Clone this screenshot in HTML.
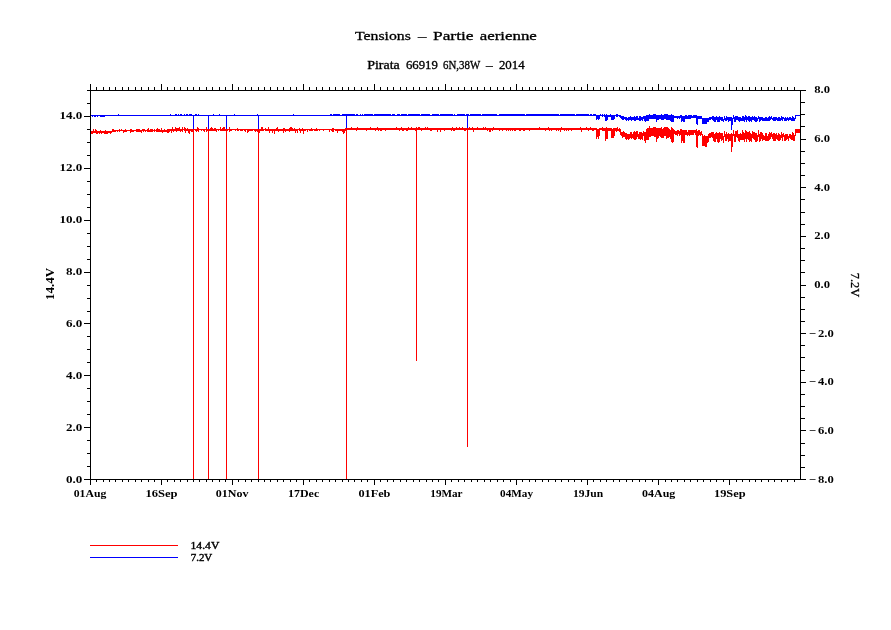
<!DOCTYPE html>
<html lang="fr"><head><meta charset="utf-8"><title>Tensions - Partie aerienne</title>
<style>html,body{margin:0;padding:0;background:#fff}body{width:891px;height:630px;overflow:hidden}svg{display:block}text{font-family:"Liberation Serif",serif;fill:#000}.tk{font-size:10.7px;font-weight:bold}.ax{font-size:12px;font-weight:bold}.lg{font-size:11px;stroke:#000;stroke-width:0.4px}</style></head><body>
<svg width="891" height="630" viewBox="0 0 891 630">
<rect width="891" height="630" fill="#fff"/>
<path fill="#0000ff" shape-rendering="crispEdges" d="M90 115h1v1h-1zM91 115h1v1h-1zM92 115h1v2h-1zM93 115h1v1h-1zM94 115h1v2h-1zM95 115h1v2h-1zM96 115h1v1h-1zM97 115h1v2h-1zM98 115h1v1h-1zM99 115h1v1h-1zM100 115h1v2h-1zM101 115h1v2h-1zM102 115h1v2h-1zM103 115h1v2h-1zM104 115h1v2h-1zM105 115h1v1h-1zM106 115h1v1h-1zM107 115h1v1h-1zM108 115h1v1h-1zM109 115h1v1h-1zM110 115h1v1h-1zM111 115h1v1h-1zM112 115h1v1h-1zM113 115h1v1h-1zM114 115h1v1h-1zM115 115h1v1h-1zM116 115h1v1h-1zM117 115h1v1h-1zM118 114h1v2h-1zM119 115h1v1h-1zM120 115h1v1h-1zM121 115h1v1h-1zM122 115h1v1h-1zM123 115h1v1h-1zM124 115h1v1h-1zM125 115h1v1h-1zM126 115h1v1h-1zM127 115h1v1h-1zM128 115h1v1h-1zM129 115h1v1h-1zM130 115h1v1h-1zM131 115h1v1h-1zM132 115h1v1h-1zM133 115h1v1h-1zM134 115h1v1h-1zM135 115h1v1h-1zM136 115h1v1h-1zM137 115h1v1h-1zM138 115h1v1h-1zM139 115h1v1h-1zM140 115h1v1h-1zM141 115h1v1h-1zM142 115h1v1h-1zM143 115h1v1h-1zM144 115h1v1h-1zM145 115h1v1h-1zM146 115h1v1h-1zM147 115h1v1h-1zM148 115h1v1h-1zM149 115h1v1h-1zM150 115h1v1h-1zM151 115h1v1h-1zM152 115h1v1h-1zM153 115h1v1h-1zM154 115h1v1h-1zM155 115h1v1h-1zM156 115h1v1h-1zM157 115h1v1h-1zM158 115h1v1h-1zM159 115h1v1h-1zM160 115h1v1h-1zM161 115h1v1h-1zM162 115h1v1h-1zM163 115h1v1h-1zM164 115h1v1h-1zM165 115h1v1h-1zM166 115h1v1h-1zM167 115h1v1h-1zM168 115h1v1h-1zM169 115h1v1h-1zM170 114h1v2h-1zM171 115h1v1h-1zM172 115h1v1h-1zM173 115h1v1h-1zM174 115h1v1h-1zM175 114h1v2h-1zM176 114h1v2h-1zM177 115h1v1h-1zM178 114h1v2h-1zM179 115h1v1h-1zM180 114h1v2h-1zM181 114h1v2h-1zM182 115h1v1h-1zM183 115h1v1h-1zM184 114h1v2h-1zM185 115h1v1h-1zM186 114h1v2h-1zM187 114h1v2h-1zM188 115h1v1h-1zM189 114h1v2h-1zM190 114h1v2h-1zM191 114h1v2h-1zM192 115h1v1h-1zM193 115h1v1h-1zM194 115h1v1h-1zM195 114h1v2h-1zM196 114h1v2h-1zM197 115h1v1h-1zM198 114h1v2h-1zM199 115h1v1h-1zM200 115h1v1h-1zM201 115h1v1h-1zM202 115h1v1h-1zM203 115h1v1h-1zM204 115h1v1h-1zM205 115h1v1h-1zM206 115h1v1h-1zM207 115h1v1h-1zM208 115h1v1h-1zM209 115h1v1h-1zM210 115h1v1h-1zM211 115h1v1h-1zM212 115h1v1h-1zM213 114h1v2h-1zM214 115h1v1h-1zM215 115h1v1h-1zM216 115h1v1h-1zM217 115h1v1h-1zM218 115h1v1h-1zM219 114h1v2h-1zM220 115h1v1h-1zM221 115h1v1h-1zM222 115h1v1h-1zM223 115h1v1h-1zM224 115h1v1h-1zM225 115h1v1h-1zM226 115h1v1h-1zM227 115h1v1h-1zM228 115h1v1h-1zM229 115h1v1h-1zM230 115h1v1h-1zM231 115h1v1h-1zM232 115h1v1h-1zM233 115h1v1h-1zM234 114h1v2h-1zM235 115h1v1h-1zM236 115h1v1h-1zM237 115h1v1h-1zM238 115h1v1h-1zM239 115h1v1h-1zM240 115h1v1h-1zM241 115h1v1h-1zM242 115h1v1h-1zM243 115h1v1h-1zM244 115h1v1h-1zM245 115h1v1h-1zM246 115h1v1h-1zM247 115h1v1h-1zM248 115h1v1h-1zM249 115h1v1h-1zM250 115h1v1h-1zM251 115h1v1h-1zM252 115h1v1h-1zM253 115h1v1h-1zM254 115h1v1h-1zM255 115h1v1h-1zM256 115h1v1h-1zM257 114h1v2h-1zM258 115h1v1h-1zM259 115h1v1h-1zM260 115h1v1h-1zM261 115h1v1h-1zM262 115h1v1h-1zM263 115h1v1h-1zM264 115h1v1h-1zM265 115h1v1h-1zM266 115h1v1h-1zM267 115h1v1h-1zM268 115h1v1h-1zM269 115h1v1h-1zM270 115h1v1h-1zM271 115h1v1h-1zM272 115h1v1h-1zM273 115h1v1h-1zM274 115h1v1h-1zM275 115h1v1h-1zM276 115h1v1h-1zM277 115h1v1h-1zM278 115h1v1h-1zM279 115h1v1h-1zM280 115h1v1h-1zM281 115h1v1h-1zM282 115h1v1h-1zM283 115h1v1h-1zM284 115h1v1h-1zM285 115h1v1h-1zM286 115h1v1h-1zM287 115h1v1h-1zM288 115h1v1h-1zM289 115h1v1h-1zM290 115h1v1h-1zM291 115h1v1h-1zM292 115h1v1h-1zM293 114h1v2h-1zM294 115h1v1h-1zM295 115h1v1h-1zM296 115h1v1h-1zM297 115h1v1h-1zM298 115h1v1h-1zM299 115h1v1h-1zM300 115h1v1h-1zM301 115h1v1h-1zM302 115h1v1h-1zM303 115h1v1h-1zM304 115h1v1h-1zM305 115h1v1h-1zM306 115h1v1h-1zM307 115h1v1h-1zM308 115h1v1h-1zM309 115h1v1h-1zM310 115h1v1h-1zM311 115h1v1h-1zM312 115h1v1h-1zM313 115h1v1h-1zM314 115h1v1h-1zM315 115h1v1h-1zM316 115h1v1h-1zM317 115h1v1h-1zM318 115h1v1h-1zM319 115h1v1h-1zM320 115h1v1h-1zM321 115h1v1h-1zM322 115h1v1h-1zM323 115h1v1h-1zM324 115h1v1h-1zM325 115h1v1h-1zM326 115h1v1h-1zM327 115h1v1h-1zM328 115h1v1h-1zM329 115h1v1h-1zM330 114h1v2h-1zM331 114h1v2h-1zM332 115h1v1h-1zM333 114h1v2h-1zM334 114h1v2h-1zM335 114h1v2h-1zM336 114h1v2h-1zM337 114h1v2h-1zM338 114h1v2h-1zM339 114h1v2h-1zM340 115h1v1h-1zM341 115h1v1h-1zM342 114h1v2h-1zM343 114h1v2h-1zM344 114h1v2h-1zM345 114h1v2h-1zM346 114h1v2h-1zM347 114h1v2h-1zM348 114h1v2h-1zM349 114h1v2h-1zM350 114h1v2h-1zM351 114h1v2h-1zM352 114h1v2h-1zM353 114h1v2h-1zM354 114h1v2h-1zM355 115h1v1h-1zM356 114h1v2h-1zM357 114h1v2h-1zM358 115h1v1h-1zM359 115h1v1h-1zM360 114h1v2h-1zM361 115h1v1h-1zM362 114h1v2h-1zM363 115h1v1h-1zM364 114h1v2h-1zM365 114h1v2h-1zM366 114h1v2h-1zM367 114h1v2h-1zM368 114h1v2h-1zM369 114h1v2h-1zM370 114h1v2h-1zM371 114h1v2h-1zM372 114h1v2h-1zM373 115h1v1h-1zM374 114h1v2h-1zM375 114h1v2h-1zM376 114h1v2h-1zM377 114h1v2h-1zM378 114h1v2h-1zM379 114h1v2h-1zM380 114h1v2h-1zM381 114h1v2h-1zM382 114h1v2h-1zM383 114h1v2h-1zM384 114h1v2h-1zM385 114h1v2h-1zM386 114h1v2h-1zM387 114h1v2h-1zM388 114h1v2h-1zM389 114h1v2h-1zM390 114h1v2h-1zM391 115h1v1h-1zM392 114h1v2h-1zM393 114h1v2h-1zM394 114h1v2h-1zM395 115h1v1h-1zM396 115h1v1h-1zM397 114h1v2h-1zM398 114h1v2h-1zM399 114h1v2h-1zM400 115h1v1h-1zM401 114h1v2h-1zM402 114h1v2h-1zM403 114h1v2h-1zM404 114h1v2h-1zM405 114h1v2h-1zM406 114h1v2h-1zM407 115h1v1h-1zM408 114h1v2h-1zM409 114h1v2h-1zM410 114h1v2h-1zM411 114h1v2h-1zM412 114h1v2h-1zM413 114h1v2h-1zM414 114h1v2h-1zM415 114h1v2h-1zM416 114h1v2h-1zM417 114h1v2h-1zM418 114h1v2h-1zM419 114h1v2h-1zM420 115h1v1h-1zM421 114h1v2h-1zM422 114h1v2h-1zM423 114h1v2h-1zM424 114h1v2h-1zM425 114h1v2h-1zM426 114h1v2h-1zM427 114h1v2h-1zM428 114h1v2h-1zM429 114h1v2h-1zM430 115h1v1h-1zM431 115h1v1h-1zM432 114h1v2h-1zM433 114h1v2h-1zM434 114h1v2h-1zM435 114h1v2h-1zM436 114h1v2h-1zM437 114h1v2h-1zM438 114h1v2h-1zM439 115h1v1h-1zM440 114h1v2h-1zM441 114h1v2h-1zM442 114h1v2h-1zM443 114h1v2h-1zM444 114h1v2h-1zM445 114h1v2h-1zM446 114h1v2h-1zM447 114h1v2h-1zM448 114h1v2h-1zM449 114h1v2h-1zM450 114h1v2h-1zM451 114h1v2h-1zM452 114h1v2h-1zM453 115h1v1h-1zM454 114h1v2h-1zM455 115h1v1h-1zM456 115h1v1h-1zM457 114h1v2h-1zM458 114h1v2h-1zM459 114h1v2h-1zM460 114h1v2h-1zM461 114h1v2h-1zM462 114h1v2h-1zM463 114h1v2h-1zM464 114h1v2h-1zM465 115h1v1h-1zM466 114h1v2h-1zM467 114h1v2h-1zM468 114h1v2h-1zM469 115h1v1h-1zM470 114h1v2h-1zM471 114h1v2h-1zM472 114h1v2h-1zM473 114h1v2h-1zM474 114h1v2h-1zM475 114h1v2h-1zM476 114h1v2h-1zM477 114h1v2h-1zM478 114h1v2h-1zM479 114h1v2h-1zM480 114h1v2h-1zM481 115h1v1h-1zM482 114h1v2h-1zM483 114h1v2h-1zM484 114h1v2h-1zM485 114h1v2h-1zM486 114h1v2h-1zM487 114h1v2h-1zM488 114h1v2h-1zM489 114h1v2h-1zM490 114h1v2h-1zM491 114h1v2h-1zM492 114h1v2h-1zM493 114h1v2h-1zM494 114h1v2h-1zM495 114h1v2h-1zM496 114h1v2h-1zM497 115h1v1h-1zM498 115h1v1h-1zM499 114h1v2h-1zM500 114h1v2h-1zM501 114h1v2h-1zM502 114h1v2h-1zM503 114h1v2h-1zM504 114h1v2h-1zM505 114h1v2h-1zM506 114h1v2h-1zM507 114h1v2h-1zM508 114h1v2h-1zM509 114h1v2h-1zM510 114h1v2h-1zM511 114h1v2h-1zM512 114h1v2h-1zM513 114h1v2h-1zM514 114h1v2h-1zM515 114h1v2h-1zM516 114h1v2h-1zM517 114h1v2h-1zM518 114h1v2h-1zM519 114h1v2h-1zM520 114h1v2h-1zM521 114h1v2h-1zM522 114h1v2h-1zM523 114h1v2h-1zM524 114h1v2h-1zM525 115h1v1h-1zM526 114h1v2h-1zM527 114h1v2h-1zM528 114h1v2h-1zM529 114h1v2h-1zM530 114h1v2h-1zM531 114h1v2h-1zM532 114h1v2h-1zM533 114h1v2h-1zM534 114h1v2h-1zM535 114h1v2h-1zM536 114h1v2h-1zM537 114h1v2h-1zM538 114h1v2h-1zM539 114h1v2h-1zM540 114h1v2h-1zM541 114h1v2h-1zM542 114h1v2h-1zM543 114h1v2h-1zM544 114h1v2h-1zM545 114h1v2h-1zM546 114h1v2h-1zM547 114h1v2h-1zM548 114h1v2h-1zM549 114h1v2h-1zM550 114h1v2h-1zM551 114h1v2h-1zM552 114h1v2h-1zM553 114h1v2h-1zM554 114h1v2h-1zM555 114h1v2h-1zM556 114h1v2h-1zM557 114h1v2h-1zM558 114h1v2h-1zM559 115h1v1h-1zM560 114h1v2h-1zM561 114h1v2h-1zM562 114h1v2h-1zM563 114h1v2h-1zM564 114h1v2h-1zM565 114h1v2h-1zM566 114h1v2h-1zM567 114h1v2h-1zM568 114h1v2h-1zM569 114h1v2h-1zM570 114h1v2h-1zM571 114h1v2h-1zM572 114h1v2h-1zM573 114h1v2h-1zM574 114h1v2h-1zM575 115h1v1h-1zM576 114h1v2h-1zM577 114h1v2h-1zM578 114h1v2h-1zM579 114h1v2h-1zM580 114h1v2h-1zM581 114h1v2h-1zM582 114h1v2h-1zM583 114h1v2h-1zM584 114h1v2h-1zM585 114h1v2h-1zM586 114h1v2h-1zM587 114h1v2h-1zM588 114h1v2h-1zM589 115h1v1h-1zM590 114h1v2h-1zM591 114h1v2h-1zM592 115h1v1h-1zM593 114h1v2h-1zM594 114h1v2h-1zM595 114h1v2h-1zM596 115h1v5h-1zM597 115h1v4h-1zM598 115h1v5h-1zM599 115h1v4h-1zM600 114h1v2h-1zM601 115h1v1h-1zM602 114h1v3h-1zM603 115h1v1h-1zM604 114h1v3h-1zM605 115h1v6h-1zM606 114h1v7h-1zM607 115h1v5h-1zM608 115h1v2h-1zM609 115h1v2h-1zM610 114h1v3h-1zM611 115h1v5h-1zM612 115h1v5h-1zM613 115h1v5h-1zM614 115h1v4h-1zM615 115h1v1h-1zM616 114h1v3h-1zM617 114h1v3h-1zM618 115h1v1h-1zM619 115h1v2h-1zM620 115h1v3h-1zM621 116h1v3h-1zM622 116h1v4h-1zM623 116h1v4h-1zM624 117h1v2h-1zM625 117h1v3h-1zM626 117h1v4h-1zM627 118h1v2h-1zM628 117h1v4h-1zM629 117h1v3h-1zM630 116h1v4h-1zM631 117h1v4h-1zM632 117h1v3h-1zM633 117h1v3h-1zM634 116h1v5h-1zM635 117h1v4h-1zM636 116h1v4h-1zM637 116h1v4h-1zM638 118h1v2h-1zM639 116h1v5h-1zM640 116h1v5h-1zM641 117h1v3h-1zM642 117h1v4h-1zM643 116h1v3h-1zM644 116h1v5h-1zM645 116h1v6h-1zM646 115h1v6h-1zM647 115h1v6h-1zM648 115h1v6h-1zM649 114h1v5h-1zM650 115h1v4h-1zM651 115h1v4h-1zM652 115h1v4h-1zM653 114h1v5h-1zM654 114h1v5h-1zM655 114h1v5h-1zM656 115h1v7h-1zM657 115h1v5h-1zM658 115h1v5h-1zM659 115h1v4h-1zM660 115h1v4h-1zM661 114h1v6h-1zM662 115h1v5h-1zM663 115h1v5h-1zM664 114h1v5h-1zM665 114h1v5h-1zM666 114h1v6h-1zM667 114h1v6h-1zM668 115h1v5h-1zM669 115h1v5h-1zM670 115h1v6h-1zM671 114h1v8h-1zM672 115h1v7h-1zM673 115h1v7h-1zM674 116h1v2h-1zM675 116h1v2h-1zM676 116h1v2h-1zM677 116h1v3h-1zM678 116h1v2h-1zM679 116h1v3h-1zM680 115h1v3h-1zM681 115h1v7h-1zM682 116h1v5h-1zM683 116h1v6h-1zM684 116h1v6h-1zM685 115h1v4h-1zM686 115h1v4h-1zM687 116h1v3h-1zM688 115h1v4h-1zM689 115h1v4h-1zM690 115h1v4h-1zM691 115h1v3h-1zM692 116h1v2h-1zM693 115h1v3h-1zM694 115h1v3h-1zM695 115h1v3h-1zM696 115h1v9h-1zM697 116h1v9h-1zM698 116h1v3h-1zM699 116h1v3h-1zM700 116h1v3h-1zM701 116h1v3h-1zM702 118h1v6h-1zM703 118h1v6h-1zM704 118h1v6h-1zM705 118h1v6h-1zM706 118h1v6h-1zM707 118h1v4h-1zM708 118h1v4h-1zM709 117h1v3h-1zM710 117h1v3h-1zM711 117h1v2h-1zM712 116h1v4h-1zM713 116h1v5h-1zM714 117h1v5h-1zM715 117h1v5h-1zM716 116h1v4h-1zM717 117h1v5h-1zM718 117h1v5h-1zM719 116h1v6h-1zM720 117h1v3h-1zM721 117h1v4h-1zM722 117h1v4h-1zM723 119h1v3h-1zM724 116h1v4h-1zM725 118h1v3h-1zM726 116h1v5h-1zM727 117h1v3h-1zM728 117h1v5h-1zM729 117h1v4h-1zM730 117h1v4h-1zM731 117h1v13h-1zM732 118h1v7h-1zM733 115h1v4h-1zM734 117h1v5h-1zM735 116h1v6h-1zM736 116h1v4h-1zM737 116h1v4h-1zM738 117h1v4h-1zM739 117h1v5h-1zM740 117h1v4h-1zM741 118h1v3h-1zM742 116h1v5h-1zM743 116h1v5h-1zM744 117h1v5h-1zM745 115h1v5h-1zM746 116h1v6h-1zM747 117h1v3h-1zM748 116h1v5h-1zM749 116h1v6h-1zM750 117h1v4h-1zM751 117h1v5h-1zM752 116h1v4h-1zM753 117h1v3h-1zM754 116h1v5h-1zM755 117h1v5h-1zM756 117h1v5h-1zM757 118h1v3h-1zM758 116h1v3h-1zM759 117h1v5h-1zM760 117h1v4h-1zM761 117h1v3h-1zM762 117h1v4h-1zM763 118h1v3h-1zM764 118h1v3h-1zM765 117h1v4h-1zM766 117h1v4h-1zM767 118h1v3h-1zM768 117h1v4h-1zM769 116h1v5h-1zM770 117h1v3h-1zM771 116h1v3h-1zM772 118h1v2h-1zM773 117h1v4h-1zM774 117h1v4h-1zM775 117h1v4h-1zM776 117h1v3h-1zM777 118h1v3h-1zM778 117h1v4h-1zM779 117h1v4h-1zM780 118h1v3h-1zM781 116h1v4h-1zM782 117h1v4h-1zM783 117h1v2h-1zM784 118h1v3h-1zM785 117h1v4h-1zM786 118h1v3h-1zM787 117h1v3h-1zM788 118h1v3h-1zM789 117h1v3h-1zM790 117h1v3h-1zM791 118h1v3h-1zM792 116h1v5h-1zM793 117h1v4h-1zM794 118h1v3h-1zM795 115h1v4h-1zM796 115h1v1h-1zM797 115h1v1h-1zM798 115h1v1h-1zM799 115h1v1h-1zM800 115h1v1h-1z"/>
<path fill="#0000ff" shape-rendering="crispEdges" d="M193 115v16h1v-16zM208 115v16h1v-16zM226 115v16h1v-16zM258 115v16h1v-16zM346 115v16h1v-16zM467 115v16h1v-16z"/>
<path fill="#ff0000" shape-rendering="crispEdges" d="M90 131h1v3h-1zM91 131h1v3h-1zM92 131h1v3h-1zM93 129h1v4h-1zM94 131h1v2h-1zM95 129h1v4h-1zM96 130h1v4h-1zM97 131h1v3h-1zM98 131h1v2h-1zM99 131h1v3h-1zM100 130h1v3h-1zM101 131h1v3h-1zM102 131h1v2h-1zM103 131h1v2h-1zM104 131h1v3h-1zM105 130h1v4h-1zM106 131h1v3h-1zM107 131h1v3h-1zM108 131h1v2h-1zM109 131h1v2h-1zM110 131h1v3h-1zM111 131h1v2h-1zM112 129h1v3h-1zM113 129h1v3h-1zM114 130h1v2h-1zM115 130h1v2h-1zM116 130h1v1h-1zM117 130h1v2h-1zM118 130h1v1h-1zM119 129h1v3h-1zM120 130h1v1h-1zM121 129h1v2h-1zM122 130h1v1h-1zM123 130h1v3h-1zM124 130h1v2h-1zM125 129h1v3h-1zM126 130h1v2h-1zM127 130h1v1h-1zM128 130h1v1h-1zM129 130h1v1h-1zM130 129h1v4h-1zM131 129h1v3h-1zM132 130h1v2h-1zM133 130h1v2h-1zM134 130h1v1h-1zM135 130h1v1h-1zM136 129h1v3h-1zM137 129h1v3h-1zM138 129h1v3h-1zM139 129h1v3h-1zM140 130h1v2h-1zM141 130h1v3h-1zM142 129h1v2h-1zM143 129h1v3h-1zM144 129h1v2h-1zM145 130h1v2h-1zM146 130h1v1h-1zM147 129h1v3h-1zM148 128h1v4h-1zM149 130h1v2h-1zM150 129h1v3h-1zM151 129h1v3h-1zM152 129h1v3h-1zM153 130h1v1h-1zM154 129h1v3h-1zM155 130h1v1h-1zM156 129h1v3h-1zM157 128h1v4h-1zM158 129h1v3h-1zM159 129h1v3h-1zM160 130h1v2h-1zM161 128h1v4h-1zM162 130h1v3h-1zM163 130h1v2h-1zM164 129h1v3h-1zM165 130h1v2h-1zM166 130h1v2h-1zM167 129h1v4h-1zM168 129h1v4h-1zM169 129h1v3h-1zM170 129h1v2h-1zM171 129h1v4h-1zM172 127h1v4h-1zM173 129h1v3h-1zM174 129h1v2h-1zM175 127h1v4h-1zM176 128h1v4h-1zM177 128h1v3h-1zM178 128h1v3h-1zM179 127h1v4h-1zM180 129h1v3h-1zM181 129h1v2h-1zM182 127h1v5h-1zM183 129h1v1h-1zM184 127h1v4h-1zM185 128h1v5h-1zM186 129h1v2h-1zM187 128h1v3h-1zM188 129h1v4h-1zM189 129h1v5h-1zM190 129h1v2h-1zM191 129h1v3h-1zM192 129h1v3h-1zM193 129h1v2h-1zM194 129h1v1h-1zM195 129h1v2h-1zM196 129h1v3h-1zM197 127h1v4h-1zM198 128h1v4h-1zM199 129h1v1h-1zM200 129h1v1h-1zM201 129h1v2h-1zM202 129h1v1h-1zM203 129h1v2h-1zM204 129h1v3h-1zM205 129h1v1h-1zM206 127h1v5h-1zM207 129h1v2h-1zM208 129h1v2h-1zM209 129h1v2h-1zM210 128h1v3h-1zM211 127h1v4h-1zM212 128h1v3h-1zM213 129h1v2h-1zM214 128h1v3h-1zM215 128h1v3h-1zM216 129h1v3h-1zM217 129h1v1h-1zM218 129h1v2h-1zM219 129h1v1h-1zM220 127h1v4h-1zM221 129h1v2h-1zM222 128h1v3h-1zM223 127h1v4h-1zM224 127h1v4h-1zM225 129h1v2h-1zM226 129h1v4h-1zM227 129h1v2h-1zM228 129h1v1h-1zM229 127h1v5h-1zM230 129h1v2h-1zM231 129h1v2h-1zM232 129h1v1h-1zM233 129h1v1h-1zM234 129h1v1h-1zM235 129h1v2h-1zM236 129h1v1h-1zM237 128h1v3h-1zM238 129h1v2h-1zM239 129h1v1h-1zM240 129h1v2h-1zM241 129h1v2h-1zM242 129h1v2h-1zM243 129h1v1h-1zM244 129h1v2h-1zM245 129h1v3h-1zM246 129h1v1h-1zM247 129h1v4h-1zM248 129h1v3h-1zM249 129h1v2h-1zM250 129h1v2h-1zM251 129h1v2h-1zM252 129h1v2h-1zM253 129h1v1h-1zM254 129h1v2h-1zM255 129h1v3h-1zM256 129h1v2h-1zM257 129h1v3h-1zM258 129h1v1h-1zM259 129h1v4h-1zM260 129h1v2h-1zM261 127h1v4h-1zM262 127h1v4h-1zM263 129h1v2h-1zM264 129h1v1h-1zM265 128h1v3h-1zM266 129h1v2h-1zM267 129h1v2h-1zM268 127h1v4h-1zM269 129h1v4h-1zM270 129h1v2h-1zM271 129h1v2h-1zM272 129h1v4h-1zM273 129h1v2h-1zM274 129h1v5h-1zM275 129h1v2h-1zM276 128h1v3h-1zM277 127h1v4h-1zM278 129h1v3h-1zM279 129h1v2h-1zM280 129h1v2h-1zM281 129h1v2h-1zM282 129h1v2h-1zM283 128h1v5h-1zM284 128h1v3h-1zM285 129h1v3h-1zM286 129h1v2h-1zM287 129h1v2h-1zM288 129h1v2h-1zM289 128h1v4h-1zM290 127h1v4h-1zM291 127h1v4h-1zM292 128h1v3h-1zM293 129h1v2h-1zM294 128h1v3h-1zM295 129h1v4h-1zM296 129h1v2h-1zM297 129h1v4h-1zM298 129h1v1h-1zM299 128h1v3h-1zM300 129h1v4h-1zM301 129h1v2h-1zM302 128h1v3h-1zM303 129h1v5h-1zM304 129h1v2h-1zM305 129h1v2h-1zM306 129h1v1h-1zM307 129h1v3h-1zM308 129h1v1h-1zM309 129h1v2h-1zM310 129h1v2h-1zM311 128h1v3h-1zM312 129h1v2h-1zM313 129h1v1h-1zM314 129h1v2h-1zM315 129h1v2h-1zM316 128h1v3h-1zM317 129h1v2h-1zM318 129h1v1h-1zM319 129h1v2h-1zM320 129h1v1h-1zM321 129h1v1h-1zM322 129h1v1h-1zM323 129h1v2h-1zM324 129h1v1h-1zM325 129h1v1h-1zM326 129h1v1h-1zM327 129h1v1h-1zM328 129h1v1h-1zM329 129h1v3h-1zM330 129h1v1h-1zM331 129h1v2h-1zM332 128h1v4h-1zM333 128h1v4h-1zM334 129h1v1h-1zM335 129h1v2h-1zM336 129h1v2h-1zM337 129h1v4h-1zM338 129h1v2h-1zM339 129h1v2h-1zM340 129h1v2h-1zM341 129h1v2h-1zM342 129h1v3h-1zM343 129h1v5h-1zM344 129h1v4h-1zM345 128h1v3h-1zM346 128h1v2h-1zM347 128h1v2h-1zM348 128h1v2h-1zM349 128h1v2h-1zM350 128h1v2h-1zM351 127h1v3h-1zM352 128h1v2h-1zM353 128h1v2h-1zM354 128h1v2h-1zM355 128h1v2h-1zM356 128h1v3h-1zM357 127h1v3h-1zM358 128h1v2h-1zM359 128h1v2h-1zM360 128h1v2h-1zM361 128h1v2h-1zM362 128h1v2h-1zM363 128h1v2h-1zM364 128h1v2h-1zM365 128h1v2h-1zM366 128h1v3h-1zM367 128h1v2h-1zM368 128h1v2h-1zM369 128h1v2h-1zM370 127h1v3h-1zM371 128h1v2h-1zM372 128h1v2h-1zM373 128h1v2h-1zM374 128h1v2h-1zM375 128h1v3h-1zM376 128h1v2h-1zM377 127h1v3h-1zM378 128h1v3h-1zM379 128h1v2h-1zM380 128h1v3h-1zM381 128h1v3h-1zM382 128h1v2h-1zM383 128h1v2h-1zM384 128h1v2h-1zM385 128h1v3h-1zM386 128h1v2h-1zM387 128h1v2h-1zM388 128h1v2h-1zM389 128h1v2h-1zM390 128h1v2h-1zM391 128h1v2h-1zM392 128h1v2h-1zM393 128h1v2h-1zM394 128h1v2h-1zM395 128h1v2h-1zM396 127h1v3h-1zM397 128h1v2h-1zM398 128h1v2h-1zM399 128h1v3h-1zM400 128h1v2h-1zM401 127h1v3h-1zM402 128h1v3h-1zM403 128h1v3h-1zM404 128h1v2h-1zM405 128h1v2h-1zM406 128h1v3h-1zM407 128h1v3h-1zM408 127h1v3h-1zM409 128h1v2h-1zM410 128h1v2h-1zM411 127h1v3h-1zM412 128h1v2h-1zM413 128h1v2h-1zM414 128h1v2h-1zM415 128h1v3h-1zM416 127h1v3h-1zM417 128h1v2h-1zM418 127h1v3h-1zM419 127h1v3h-1zM420 128h1v2h-1zM421 128h1v3h-1zM422 128h1v2h-1zM423 128h1v2h-1zM424 128h1v2h-1zM425 127h1v3h-1zM426 128h1v2h-1zM427 127h1v3h-1zM428 128h1v2h-1zM429 128h1v2h-1zM430 128h1v3h-1zM431 128h1v3h-1zM432 128h1v2h-1zM433 128h1v2h-1zM434 128h1v2h-1zM435 128h1v2h-1zM436 128h1v2h-1zM437 128h1v4h-1zM438 128h1v2h-1zM439 128h1v2h-1zM440 128h1v4h-1zM441 128h1v2h-1zM442 128h1v2h-1zM443 128h1v2h-1zM444 128h1v3h-1zM445 128h1v2h-1zM446 128h1v2h-1zM447 128h1v2h-1zM448 128h1v2h-1zM449 128h1v2h-1zM450 128h1v2h-1zM451 128h1v3h-1zM452 127h1v3h-1zM453 128h1v3h-1zM454 128h1v3h-1zM455 128h1v2h-1zM456 127h1v3h-1zM457 128h1v2h-1zM458 128h1v2h-1zM459 127h1v3h-1zM460 128h1v2h-1zM461 128h1v2h-1zM462 127h1v3h-1zM463 128h1v2h-1zM464 128h1v3h-1zM465 128h1v3h-1zM466 128h1v2h-1zM467 128h1v2h-1zM468 128h1v2h-1zM469 127h1v3h-1zM470 128h1v2h-1zM471 128h1v2h-1zM472 127h1v3h-1zM473 128h1v4h-1zM474 128h1v2h-1zM475 128h1v2h-1zM476 128h1v2h-1zM477 127h1v3h-1zM478 128h1v2h-1zM479 128h1v2h-1zM480 128h1v2h-1zM481 128h1v2h-1zM482 128h1v2h-1zM483 127h1v3h-1zM484 128h1v2h-1zM485 127h1v3h-1zM486 128h1v2h-1zM487 128h1v3h-1zM488 128h1v2h-1zM489 128h1v4h-1zM490 128h1v4h-1zM491 128h1v2h-1zM492 128h1v3h-1zM493 127h1v3h-1zM494 128h1v2h-1zM495 128h1v2h-1zM496 128h1v2h-1zM497 128h1v2h-1zM498 128h1v2h-1zM499 128h1v3h-1zM500 128h1v2h-1zM501 128h1v2h-1zM502 128h1v3h-1zM503 128h1v2h-1zM504 128h1v2h-1zM505 128h1v2h-1zM506 128h1v3h-1zM507 128h1v2h-1zM508 128h1v3h-1zM509 128h1v2h-1zM510 128h1v3h-1zM511 128h1v2h-1zM512 128h1v3h-1zM513 128h1v2h-1zM514 128h1v3h-1zM515 128h1v3h-1zM516 128h1v2h-1zM517 128h1v2h-1zM518 128h1v2h-1zM519 128h1v3h-1zM520 128h1v3h-1zM521 128h1v2h-1zM522 128h1v2h-1zM523 128h1v3h-1zM524 128h1v3h-1zM525 128h1v2h-1zM526 128h1v2h-1zM527 128h1v2h-1zM528 128h1v2h-1zM529 128h1v3h-1zM530 128h1v2h-1zM531 128h1v2h-1zM532 128h1v2h-1zM533 128h1v2h-1zM534 128h1v2h-1zM535 128h1v2h-1zM536 128h1v2h-1zM537 128h1v2h-1zM538 128h1v2h-1zM539 127h1v3h-1zM540 128h1v2h-1zM541 128h1v2h-1zM542 128h1v2h-1zM543 128h1v2h-1zM544 128h1v2h-1zM545 128h1v3h-1zM546 128h1v2h-1zM547 128h1v2h-1zM548 127h1v3h-1zM549 128h1v3h-1zM550 128h1v2h-1zM551 128h1v3h-1zM552 128h1v2h-1zM553 128h1v2h-1zM554 128h1v2h-1zM555 128h1v2h-1zM556 128h1v3h-1zM557 128h1v2h-1zM558 128h1v3h-1zM559 128h1v2h-1zM560 128h1v4h-1zM561 127h1v3h-1zM562 128h1v2h-1zM563 128h1v2h-1zM564 128h1v3h-1zM565 128h1v2h-1zM566 128h1v3h-1zM567 128h1v2h-1zM568 128h1v3h-1zM569 128h1v2h-1zM570 128h1v2h-1zM571 128h1v3h-1zM572 128h1v2h-1zM573 128h1v2h-1zM574 128h1v2h-1zM575 128h1v2h-1zM576 128h1v2h-1zM577 128h1v2h-1zM578 128h1v2h-1zM579 128h1v2h-1zM580 127h1v3h-1zM581 128h1v4h-1zM582 128h1v2h-1zM583 128h1v2h-1zM584 128h1v2h-1zM585 128h1v2h-1zM586 127h1v3h-1zM587 128h1v2h-1zM588 128h1v3h-1zM589 128h1v2h-1zM590 127h1v3h-1zM591 128h1v2h-1zM592 128h1v3h-1zM593 128h1v3h-1zM594 128h1v2h-1zM595 128h1v2h-1zM596 128h1v11h-1zM597 129h1v8h-1zM598 129h1v10h-1zM599 128h1v8h-1zM600 128h1v2h-1zM601 128h1v2h-1zM602 127h1v4h-1zM603 128h1v3h-1zM604 128h1v3h-1zM605 128h1v13h-1zM606 127h1v12h-1zM607 128h1v11h-1zM608 128h1v3h-1zM609 128h1v3h-1zM610 128h1v3h-1zM611 128h1v10h-1zM612 129h1v9h-1zM613 128h1v10h-1zM614 128h1v8h-1zM615 128h1v3h-1zM616 128h1v4h-1zM617 127h1v4h-1zM618 129h1v2h-1zM619 128h1v4h-1zM620 129h1v6h-1zM621 132h1v4h-1zM622 132h1v6h-1zM623 131h1v6h-1zM624 132h1v5h-1zM625 133h1v6h-1zM626 133h1v7h-1zM627 134h1v5h-1zM628 134h1v6h-1zM629 134h1v5h-1zM630 132h1v6h-1zM631 132h1v7h-1zM632 134h1v4h-1zM633 132h1v7h-1zM634 131h1v9h-1zM635 132h1v8h-1zM636 131h1v8h-1zM637 131h1v6h-1zM638 134h1v5h-1zM639 132h1v7h-1zM640 132h1v8h-1zM641 132h1v7h-1zM642 133h1v7h-1zM643 131h1v5h-1zM644 132h1v9h-1zM645 132h1v11h-1zM646 129h1v11h-1zM647 128h1v12h-1zM648 128h1v12h-1zM649 126h1v11h-1zM650 128h1v9h-1zM651 128h1v8h-1zM652 128h1v8h-1zM653 127h1v9h-1zM654 127h1v10h-1zM655 127h1v10h-1zM656 128h1v14h-1zM657 128h1v11h-1zM658 128h1v10h-1zM659 128h1v8h-1zM660 128h1v9h-1zM661 127h1v11h-1zM662 129h1v9h-1zM663 128h1v10h-1zM664 127h1v9h-1zM665 127h1v9h-1zM666 127h1v12h-1zM667 127h1v11h-1zM668 128h1v10h-1zM669 129h1v8h-1zM670 130h1v9h-1zM671 127h1v15h-1zM672 128h1v15h-1zM673 129h1v13h-1zM674 130h1v4h-1zM675 131h1v4h-1zM676 131h1v4h-1zM677 130h1v6h-1zM678 130h1v4h-1zM679 131h1v5h-1zM680 129h1v6h-1zM681 129h1v14h-1zM682 130h1v11h-1zM683 130h1v13h-1zM684 130h1v13h-1zM685 130h1v5h-1zM686 130h1v5h-1zM687 132h1v4h-1zM688 130h1v5h-1zM689 130h1v6h-1zM690 130h1v5h-1zM691 130h1v5h-1zM692 130h1v5h-1zM693 130h1v5h-1zM694 130h1v3h-1zM695 130h1v5h-1zM696 129h1v18h-1zM697 131h1v17h-1zM698 130h1v6h-1zM699 130h1v5h-1zM700 132h1v4h-1zM701 131h1v4h-1zM702 134h1v12h-1zM703 136h1v10h-1zM704 135h1v11h-1zM705 136h1v11h-1zM706 136h1v11h-1zM707 136h1v7h-1zM708 134h1v8h-1zM709 133h1v5h-1zM710 133h1v5h-1zM711 132h1v5h-1zM712 132h1v6h-1zM713 132h1v9h-1zM714 134h1v8h-1zM715 133h1v9h-1zM716 132h1v7h-1zM717 133h1v9h-1zM718 133h1v10h-1zM719 132h1v10h-1zM720 133h1v6h-1zM721 133h1v8h-1zM722 133h1v7h-1zM723 136h1v7h-1zM724 131h1v6h-1zM725 134h1v7h-1zM726 132h1v9h-1zM727 134h1v5h-1zM728 133h1v9h-1zM729 134h1v7h-1zM730 134h1v7h-1zM731 133h1v19h-1zM732 134h1v13h-1zM733 130h1v6h-1zM734 134h1v8h-1zM735 131h1v11h-1zM736 131h1v6h-1zM737 130h1v8h-1zM738 134h1v7h-1zM739 134h1v8h-1zM740 133h1v7h-1zM741 134h1v6h-1zM742 130h1v10h-1zM743 132h1v8h-1zM744 133h1v9h-1zM745 130h1v9h-1zM746 131h1v11h-1zM747 132h1v7h-1zM748 132h1v8h-1zM749 131h1v11h-1zM750 133h1v8h-1zM751 134h1v8h-1zM752 131h1v7h-1zM753 132h1v7h-1zM754 132h1v8h-1zM755 133h1v9h-1zM756 133h1v9h-1zM757 135h1v6h-1zM758 130h1v7h-1zM759 134h1v8h-1zM760 132h1v9h-1zM761 132h1v7h-1zM762 133h1v8h-1zM763 135h1v5h-1zM764 136h1v4h-1zM765 133h1v8h-1zM766 133h1v8h-1zM767 136h1v5h-1zM768 134h1v7h-1zM769 132h1v8h-1zM770 133h1v6h-1zM771 132h1v5h-1zM772 134h1v5h-1zM773 133h1v8h-1zM774 133h1v8h-1zM775 134h1v7h-1zM776 133h1v6h-1zM777 135h1v5h-1zM778 133h1v8h-1zM779 134h1v7h-1zM780 135h1v5h-1zM781 132h1v6h-1zM782 134h1v7h-1zM783 133h1v4h-1zM784 135h1v6h-1zM785 134h1v7h-1zM786 134h1v6h-1zM787 134h1v5h-1zM788 136h1v5h-1zM789 134h1v4h-1zM790 134h1v5h-1zM791 135h1v5h-1zM792 132h1v8h-1zM793 133h1v8h-1zM794 135h1v6h-1zM795 129h1v7h-1zM796 129h1v4h-1zM797 129h1v4h-1zM798 129h1v4h-1zM799 129h1v4h-1zM800 129h1v4h-1z"/>
<path fill="#ff0000" shape-rendering="crispEdges" d="M193 129v351h1v-351zM208 129v351h1v-351zM226 129v351h1v-351zM258 129v351h1v-351zM346 129v351h1v-351zM416 129v232h1v-232zM467 129v318h1v-318z"/>
<path fill="#000" shape-rendering="crispEdges" d="M90 90h711v1h-711zM90 479h711v1h-711zM90 90h1v390h-1zM800 90h1v390h-1zM90 84h1v6h-1zM90 480h1v5h-1zM96 87h1v3h-1zM96 480h1v2h-1zM103 87h1v3h-1zM103 480h1v2h-1zM109 87h1v3h-1zM109 480h1v2h-1zM115 87h1v3h-1zM115 480h1v2h-1zM122 87h1v3h-1zM122 480h1v2h-1zM128 87h1v3h-1zM128 480h1v2h-1zM135 87h1v3h-1zM135 480h1v2h-1zM141 87h1v3h-1zM141 480h1v2h-1zM148 87h1v3h-1zM148 480h1v2h-1zM154 87h1v3h-1zM154 480h1v2h-1zM161 84h1v6h-1zM161 480h1v5h-1zM167 87h1v3h-1zM167 480h1v2h-1zM174 87h1v3h-1zM174 480h1v2h-1zM180 87h1v3h-1zM180 480h1v2h-1zM187 87h1v3h-1zM187 480h1v2h-1zM193 87h1v3h-1zM193 480h1v2h-1zM199 87h1v3h-1zM199 480h1v2h-1zM206 87h1v3h-1zM206 480h1v2h-1zM212 87h1v3h-1zM212 480h1v2h-1zM219 87h1v3h-1zM219 480h1v2h-1zM225 87h1v3h-1zM225 480h1v2h-1zM232 84h1v6h-1zM232 480h1v5h-1zM238 87h1v3h-1zM238 480h1v2h-1zM245 87h1v3h-1zM245 480h1v2h-1zM251 87h1v3h-1zM251 480h1v2h-1zM258 87h1v3h-1zM258 480h1v2h-1zM264 87h1v3h-1zM264 480h1v2h-1zM270 87h1v3h-1zM270 480h1v2h-1zM277 87h1v3h-1zM277 480h1v2h-1zM283 87h1v3h-1zM283 480h1v2h-1zM290 87h1v3h-1zM290 480h1v2h-1zM296 87h1v3h-1zM296 480h1v2h-1zM303 84h1v6h-1zM303 480h1v5h-1zM309 87h1v3h-1zM309 480h1v2h-1zM316 87h1v3h-1zM316 480h1v2h-1zM322 87h1v3h-1zM322 480h1v2h-1zM329 87h1v3h-1zM329 480h1v2h-1zM335 87h1v3h-1zM335 480h1v2h-1zM342 87h1v3h-1zM342 480h1v2h-1zM348 87h1v3h-1zM348 480h1v2h-1zM354 87h1v3h-1zM354 480h1v2h-1zM361 87h1v3h-1zM361 480h1v2h-1zM367 87h1v3h-1zM367 480h1v2h-1zM374 84h1v6h-1zM374 480h1v5h-1zM380 87h1v3h-1zM380 480h1v2h-1zM387 87h1v3h-1zM387 480h1v2h-1zM393 87h1v3h-1zM393 480h1v2h-1zM400 87h1v3h-1zM400 480h1v2h-1zM406 87h1v3h-1zM406 480h1v2h-1zM413 87h1v3h-1zM413 480h1v2h-1zM419 87h1v3h-1zM419 480h1v2h-1zM426 87h1v3h-1zM426 480h1v2h-1zM432 87h1v3h-1zM432 480h1v2h-1zM438 87h1v3h-1zM438 480h1v2h-1zM445 84h1v6h-1zM445 480h1v5h-1zM451 87h1v3h-1zM451 480h1v2h-1zM458 87h1v3h-1zM458 480h1v2h-1zM464 87h1v3h-1zM464 480h1v2h-1zM471 87h1v3h-1zM471 480h1v2h-1zM477 87h1v3h-1zM477 480h1v2h-1zM484 87h1v3h-1zM484 480h1v2h-1zM490 87h1v3h-1zM490 480h1v2h-1zM497 87h1v3h-1zM497 480h1v2h-1zM503 87h1v3h-1zM503 480h1v2h-1zM510 87h1v3h-1zM510 480h1v2h-1zM516 84h1v6h-1zM516 480h1v5h-1zM522 87h1v3h-1zM522 480h1v2h-1zM529 87h1v3h-1zM529 480h1v2h-1zM535 87h1v3h-1zM535 480h1v2h-1zM542 87h1v3h-1zM542 480h1v2h-1zM548 87h1v3h-1zM548 480h1v2h-1zM555 87h1v3h-1zM555 480h1v2h-1zM561 87h1v3h-1zM561 480h1v2h-1zM568 87h1v3h-1zM568 480h1v2h-1zM574 87h1v3h-1zM574 480h1v2h-1zM581 87h1v3h-1zM581 480h1v2h-1zM587 84h1v6h-1zM587 480h1v5h-1zM593 87h1v3h-1zM593 480h1v2h-1zM600 87h1v3h-1zM600 480h1v2h-1zM606 87h1v3h-1zM606 480h1v2h-1zM613 87h1v3h-1zM613 480h1v2h-1zM619 87h1v3h-1zM619 480h1v2h-1zM626 87h1v3h-1zM626 480h1v2h-1zM632 87h1v3h-1zM632 480h1v2h-1zM639 87h1v3h-1zM639 480h1v2h-1zM645 87h1v3h-1zM645 480h1v2h-1zM652 87h1v3h-1zM652 480h1v2h-1zM658 84h1v6h-1zM658 480h1v5h-1zM665 87h1v3h-1zM665 480h1v2h-1zM671 87h1v3h-1zM671 480h1v2h-1zM677 87h1v3h-1zM677 480h1v2h-1zM684 87h1v3h-1zM684 480h1v2h-1zM690 87h1v3h-1zM690 480h1v2h-1zM697 87h1v3h-1zM697 480h1v2h-1zM703 87h1v3h-1zM703 480h1v2h-1zM710 87h1v3h-1zM710 480h1v2h-1zM716 87h1v3h-1zM716 480h1v2h-1zM723 87h1v3h-1zM723 480h1v2h-1zM729 84h1v6h-1zM729 480h1v5h-1zM736 87h1v3h-1zM736 480h1v2h-1zM742 87h1v3h-1zM742 480h1v2h-1zM749 87h1v3h-1zM749 480h1v2h-1zM755 87h1v3h-1zM755 480h1v2h-1zM761 87h1v3h-1zM761 480h1v2h-1zM768 87h1v3h-1zM768 480h1v2h-1zM774 87h1v3h-1zM774 480h1v2h-1zM781 87h1v3h-1zM781 480h1v2h-1zM787 87h1v3h-1zM787 480h1v2h-1zM794 87h1v3h-1zM794 480h1v2h-1zM84 479h6v1h-6zM87 466h3v1h-3zM87 453h3v1h-3zM87 440h3v1h-3zM84 427h6v1h-6zM87 414h3v1h-3zM87 401h3v1h-3zM87 388h3v1h-3zM84 375h6v1h-6zM87 362h3v1h-3zM87 349h3v1h-3zM87 336h3v1h-3zM84 323h6v1h-6zM87 311h3v1h-3zM87 298h3v1h-3zM87 285h3v1h-3zM84 272h6v1h-6zM87 259h3v1h-3zM87 246h3v1h-3zM87 233h3v1h-3zM84 220h6v1h-6zM87 207h3v1h-3zM87 194h3v1h-3zM87 181h3v1h-3zM84 168h6v1h-6zM87 155h3v1h-3zM87 142h3v1h-3zM87 129h3v1h-3zM84 116h6v1h-6zM87 103h3v1h-3zM87 90h3v1h-3zM801 479h5v1h-5zM801 467h4v1h-4zM801 455h4v1h-4zM801 443h4v1h-4zM801 430h5v1h-5zM801 418h4v1h-4zM801 406h4v1h-4zM801 394h4v1h-4zM801 382h5v1h-5zM801 370h4v1h-4zM801 357h4v1h-4zM801 345h4v1h-4zM801 333h5v1h-5zM801 321h4v1h-4zM801 309h4v1h-4zM801 297h4v1h-4zM801 285h5v1h-5zM801 272h4v1h-4zM801 260h4v1h-4zM801 248h4v1h-4zM801 236h5v1h-5zM801 224h4v1h-4zM801 212h4v1h-4zM801 199h4v1h-4zM801 187h5v1h-5zM801 175h4v1h-4zM801 163h4v1h-4zM801 151h4v1h-4zM801 139h5v1h-5zM801 126h4v1h-4zM801 114h4v1h-4zM801 102h4v1h-4zM801 90h5v1h-5z"/>
<text class="tk" transform="translate(82.3 483) scale(1.22 1)" text-anchor="end">0.0</text>
<text class="tk" transform="translate(82.3 431) scale(1.22 1)" text-anchor="end">2.0</text>
<text class="tk" transform="translate(82.3 379) scale(1.22 1)" text-anchor="end">4.0</text>
<text class="tk" transform="translate(82.3 327) scale(1.22 1)" text-anchor="end">6.0</text>
<text class="tk" transform="translate(82.3 275) scale(1.22 1)" text-anchor="end">8.0</text>
<text class="tk" transform="translate(82.3 223) scale(1.22 1)" text-anchor="end">10.0</text>
<text class="tk" transform="translate(82.3 171) scale(1.22 1)" text-anchor="end">12.0</text>
<text class="tk" transform="translate(82.3 119) scale(1.22 1)" text-anchor="end">14.0</text>
<text class="tk" transform="translate(808.7 483) scale(1.18 1)">−<tspan dx="1.8">8.0</tspan></text>
<text class="tk" transform="translate(808.7 434) scale(1.18 1)">−<tspan dx="1.8">6.0</tspan></text>
<text class="tk" transform="translate(808.7 385) scale(1.18 1)">−<tspan dx="1.8">4.0</tspan></text>
<text class="tk" transform="translate(808.7 337) scale(1.18 1)">−<tspan dx="1.8">2.0</tspan></text>
<text class="tk" transform="translate(814.3 288) scale(1.18 1)">0.0</text>
<text class="tk" transform="translate(814.3 239) scale(1.18 1)">2.0</text>
<text class="tk" transform="translate(814.3 191) scale(1.18 1)">4.0</text>
<text class="tk" transform="translate(814.3 142) scale(1.18 1)">6.0</text>
<text class="tk" transform="translate(814.3 93) scale(1.18 1)">8.0</text>
<text class="tk" x="73.7" y="496.5" textLength="32.6" lengthAdjust="spacingAndGlyphs">01Aug</text>
<text class="tk" x="145.4" y="496.5" textLength="32.1" lengthAdjust="spacingAndGlyphs">16Sep</text>
<text class="tk" x="215.8" y="496.5" textLength="32.7" lengthAdjust="spacingAndGlyphs">01Nov</text>
<text class="tk" x="288.1" y="496.5" textLength="31.1" lengthAdjust="spacingAndGlyphs">17Dec</text>
<text class="tk" x="358.4" y="496.5" textLength="32.0" lengthAdjust="spacingAndGlyphs">01Feb</text>
<text class="tk" x="430.3" y="496.5" textLength="32.3" lengthAdjust="spacingAndGlyphs">19Mar</text>
<text class="tk" x="500.1" y="496.5" textLength="32.9" lengthAdjust="spacingAndGlyphs">04May</text>
<text class="tk" x="573.0" y="496.5" textLength="30.2" lengthAdjust="spacingAndGlyphs">19Jun</text>
<text class="tk" x="642.1" y="496.5" textLength="33.2" lengthAdjust="spacingAndGlyphs">04Aug</text>
<text class="tk" x="714.0" y="496.5" textLength="31.6" lengthAdjust="spacingAndGlyphs">19Sep</text>
<text x="355.0" y="40" style="font-size:13.5px;stroke:#000;stroke-width:0.3px" textLength="55.8" lengthAdjust="spacingAndGlyphs">Tensions</text>
<text x="417.9" y="40" style="font-size:13.5px;stroke:#000;stroke-width:0.3px" textLength="8.4" lengthAdjust="spacingAndGlyphs">–</text>
<text x="433.0" y="40" style="font-size:13.5px;stroke:#000;stroke-width:0.3px" textLength="40.5" lengthAdjust="spacingAndGlyphs">Partie</text>
<text x="479.8" y="40" style="font-size:13.5px;stroke:#000;stroke-width:0.3px" textLength="57.0" lengthAdjust="spacingAndGlyphs">aerienne</text>
<text x="367.2" y="69" style="font-size:11.5px;stroke:#000;stroke-width:0.3px" textLength="32.6" lengthAdjust="spacingAndGlyphs">Pirata</text>
<text x="405.9" y="69" style="font-size:11.5px;stroke:#000;stroke-width:0.3px" textLength="31.9" lengthAdjust="spacingAndGlyphs">66919</text>
<text x="443.1" y="69" style="font-size:11.5px;stroke:#000;stroke-width:0.3px" textLength="37.1" lengthAdjust="spacingAndGlyphs">6N,38W</text>
<text x="486" y="69" style="font-size:11.5px;stroke:#000;stroke-width:0.3px" textLength="6.7" lengthAdjust="spacingAndGlyphs">–</text>
<text x="498.9" y="69" style="font-size:11.5px;stroke:#000;stroke-width:0.3px" textLength="25.8" lengthAdjust="spacingAndGlyphs">2014</text>
<text class="ax" style="font-size:13px" transform="translate(54 284) rotate(-90)" text-anchor="middle" textLength="32" lengthAdjust="spacingAndGlyphs">14.4V</text>
<text transform="translate(851 285) rotate(90)" text-anchor="middle" style="font-size:13px;stroke:#000;stroke-width:0.3px" textLength="24.5" lengthAdjust="spacingAndGlyphs">7.2V</text>
<path fill="#ff0000" shape-rendering="crispEdges" d="M90 545h88v1h-88z"/>
<path fill="#0000ff" shape-rendering="crispEdges" d="M90 557h88v1h-88z"/>
<text class="lg" x="190.5" y="549" textLength="28.8" lengthAdjust="spacingAndGlyphs">14.4V</text>
<text class="lg" x="190.7" y="561" textLength="21.6" lengthAdjust="spacingAndGlyphs">7.2V</text>
</svg></body></html>
